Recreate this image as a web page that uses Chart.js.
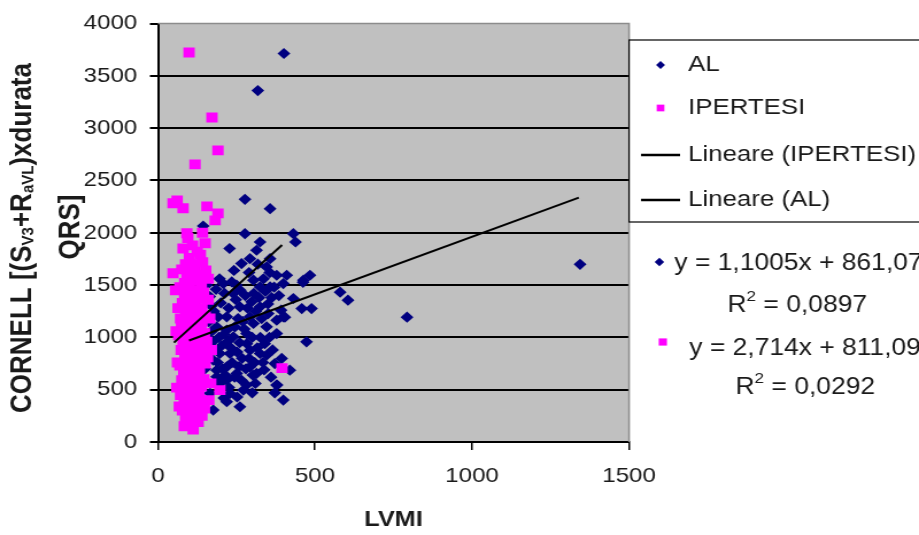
<!DOCTYPE html>
<html>
<head>
<meta charset="utf-8">
<title>CORNELL / LVMI</title>
<script src="https://cdn.jsdelivr.net/npm/chart.js@4/dist/chart.umd.min.js"></script>
<style>
  html, body { margin: 0; padding: 0; background: #ffffff; overflow: hidden; }
</style>
</head>
<body>
<canvas id="scatterChart" width="800" height="535" style="display:block;width:919px;height:535px"></canvas>
<script>
/*
----------------------
Data
----------------------
*/
var al_x = [277, 357, 144, 277, 431, 438, 325, 314, 293, 266, 357, 346, 378, 410, 463, 484, 304, 208, 240, 325,
  357, 399, 431, 458, 489, 192, 219, 261, 293, 325, 351, 378, 399, 187, 219, 240, 282, 304, 346, 378,
  473, 144, 176, 197, 229, 293, 325, 346, 394, 420, 187, 219, 251, 293, 314, 187, 219, 282, 378, 166,
  219, 261, 176, 399, 272, 229, 197, 144, 401, 318, 580, 605, 793, 1344, 404, 379, 462,
  165, 178, 185, 200, 212, 225, 235, 248, 255, 262, 270, 278, 285, 290, 298, 305, 312, 318, 322, 330,
  336, 342, 350, 356, 362, 370, 385, 392, 168, 175, 182, 194, 203, 210, 222, 232, 245, 252, 260, 268,
  275, 283, 290, 300, 308, 316, 326, 334, 340, 355, 365, 372, 190, 206, 214, 236, 244, 258, 266, 280,
  302, 310, 338, 360, 372, 150, 156, 162, 170, 196, 242, 228, 250, 205, 226, 252, 300, 210, 155, 140];
var al_y = [2320, 2231, 2065, 1992, 1992, 1912, 1912, 1833, 1753, 1706, 1753, 1674, 1594, 1594, 1547, 1594, 1547, 1515, 1419, 1483,
  1483, 1515, 1372, 1276, 1276, 1197, 1197, 1292, 1197, 1292, 1228, 1165, 1197, 1101, 1069, 1006, 1037, 1133, 1101, 1037,
  958, 815, 783, 846, 846, 878, 846, 831, 799, 687, 687, 719, 656, 719, 656, 624, 592, 544, 544, 465,
  385, 337, 305, 401, 496, 465, 560, 592, 3714, 3360, 1432, 1356, 1193, 1699, 1193, 544, 1527,
  1390, 1250, 1460, 1330, 1420, 1280, 1530, 1360, 1180, 1450, 1150, 1400, 1280, 1620, 1340, 1420, 1250, 1700, 1380, 1180,
  1560, 1440, 1320, 1620, 1380, 1480, 1400, 1260, 1050, 960, 880, 1000, 920, 1030, 960, 900, 1100, 860, 950, 800,
  1080, 940, 800, 1000, 760, 900, 1000, 760, 940, 1000, 880, 750, 760, 700, 640, 760, 620, 720, 590, 700,
  640, 560, 690, 620, 470, 700, 880, 1150, 1300, 1560, 1640, 1850, 1500, 600, 520, 430, 470, 420, 1500, 1240];

var ipertesi_x = [99, 172, 191, 118, 61, 48, 80, 156, 191, 182, 92, 48, 395, 197,
  95, 110, 125, 100, 135, 88, 118, 142, 76, 105, 130, 152, 92, 115, 138, 70, 100, 122, 145, 85,
  108, 132, 160, 78, 96, 118, 140, 88, 110, 128, 150, 72, 98, 120, 138, 84, 104, 126, 148, 66,
  92, 114, 134, 80, 100, 122, 142, 74, 96, 116, 136, 158, 86, 106, 128, 70, 92, 112, 132, 82,
  102, 124, 146, 76, 96, 118, 138, 88, 108, 130, 72, 94, 114, 136, 84, 104, 126, 148, 78, 98,
  118, 140, 88, 108, 128, 96, 84, 112, 68, 60, 62, 58, 64, 56, 160, 165, 170, 168, 162, 150,
  142, 80, 75, 155, 90, 100, 115, 125, 85, 95, 105, 120, 130, 110, 140, 150, 100, 90];
var ipertesi_y = [3723, 3103, 2788, 2654, 2310, 2282, 2234, 2253, 2186, 2119, 1995, 1613, 706, 496,
  1950, 1880, 1820, 1760, 1790, 1700, 1680, 1720, 1650, 1620, 1600, 1640, 1560, 1540, 1520, 1480, 1470, 1450, 1430, 1400,
  1390, 1370, 1360, 1330, 1310, 1290, 1280, 1250, 1230, 1210, 1200, 1180, 1160, 1140, 1120, 1100, 1080, 1060, 1040, 1020,
  1000, 990, 970, 950, 930, 910, 900, 880, 860, 840, 820, 810, 790, 770, 750, 730, 710, 700, 680, 660,
  640, 620, 600, 590, 570, 550, 530, 510, 490, 470, 450, 430, 420, 400, 380, 360, 340, 320, 300, 280,
  260, 250, 230, 210, 190, 170, 150, 120, 340, 520, 760, 1060, 1280, 1450, 1560, 1180, 880, 560, 400, 1900,
  2000, 1850, 1100, 960, 300, 1050, 1350, 1550, 1520, 1150, 820, 480, 1000, 1700, 1150, 750, 600, 880];

/* trend line end points */
var ipertesi_trend_x = [51, 395];
var ipertesi_trend_y = [950, 1883];
var al_trend_x = [99, 1340];
var al_trend_y = [970, 2336];

var series_labels = ["AL", "IPERTESI", "Lineare (IPERTESI)", "Lineare (AL)"];
var trend_equations = ["y = 1,1005x + 861,07", "y = 2,714x + 811,09"];
var trend_r_squared = ["0,0897", "0,0292"];

var x_ticks = [0, 500, 1000, 1500];
var y_ticks = [0, 500, 1000, 1500, 2000, 2500, 3000, 3500, 4000];

var al_color = "#000080";
var ipertesi_color = "#ff00ff";
var text_color = "#1a1a1a";
var font_family = "'Liberation Sans', Arial, sans-serif";

function to_points(xs, ys) {
  var points = [];
  for (var i = 0; i < xs.length; i++) {
    points.push({ x: xs[i], y: ys[i] });
  }
  return points;
}

/*
----------------------
Grey plot background and plot frame
----------------------
*/
var plot_background_plugin = {
  id: "plot_background",
  beforeDraw: function (chart) {
    var area = chart.chartArea;
    var ctx = chart.ctx;
    ctx.save();
    ctx.fillStyle = "#c0c0c0";
    ctx.fillRect(area.left, area.top, area.right - area.left, area.bottom - area.top);
    ctx.restore();
  },
  beforeDatasetsDraw: function (chart) {
    var area = chart.chartArea;
    var ctx = chart.ctx;
    ctx.save();
    ctx.strokeStyle = "#8c8c8c";
    ctx.lineWidth = 1.5;
    ctx.beginPath();
    ctx.moveTo(area.left, area.top);
    ctx.lineTo(area.right, area.top);
    ctx.lineTo(area.right, area.bottom);
    ctx.stroke();
    ctx.restore();
  }
};

/*
----------------------
Legend box and trend line equations on the right
----------------------
*/
function draw_r_squared(ctx, value, center_x, y) {
  var main_font = "23px " + font_family;
  var sup_font = "15px " + font_family;
  ctx.font = main_font;
  var w_r = ctx.measureText("R").width;
  var w_rest = ctx.measureText(" = " + value).width;
  ctx.font = sup_font;
  var w_two = ctx.measureText("2").width;
  var x = center_x - (w_r + w_two + w_rest) / 2;

  ctx.textAlign = "left";
  ctx.font = main_font;
  ctx.fillText("R", x, y);
  ctx.font = sup_font;
  ctx.fillText("2", x + w_r, y - 9);
  ctx.font = main_font;
  ctx.fillText(" = " + value, x + w_r + w_two, y);
}

var side_legend_plugin = {
  id: "side_legend",
  afterDraw: function (chart) {
    var ctx = chart.ctx;
    var area = chart.chartArea;
    var box_left = area.right;
    var datasets = chart.data.datasets;

    ctx.save();
    ctx.fillStyle = "#ffffff";
    ctx.fillRect(box_left, 40, 300, 182);
    ctx.strokeStyle = "#000000";
    ctx.lineWidth = 1.2;
    ctx.strokeRect(box_left, 40, 300, 182);

    ctx.font = "22.5px " + font_family;
    ctx.fillStyle = text_color;
    ctx.textBaseline = "middle";
    ctx.textAlign = "left";

    var rows = [65, 108, 155, 200];
    var text_x = 599;
    var marker_x = 575;

    for (var i = 0; i < datasets.length; i++) {
      var ds = datasets[i];
      var row_y = rows[i];
      if (ds.showLine) {
        ctx.strokeStyle = ds.borderColor;
        ctx.lineWidth = 2.5;
        ctx.beginPath();
        ctx.moveTo(558, row_y);
        ctx.lineTo(592, row_y);
        ctx.stroke();
      } else {
        draw_marker(ctx, ds.pointStyle, marker_x, row_y, ds.backgroundColor, 0.7);
      }
      ctx.fillStyle = text_color;
      ctx.fillText(ds.label, text_x, row_y);
    }

    /* trend line equations below the legend */
    ctx.font = "23px " + font_family;
    draw_marker(ctx, "rectRot", 574, 262, al_color, 0.75);
    ctx.fillStyle = text_color;
    ctx.textAlign = "left";
    ctx.fillText(trend_equations[0], 587, 264);
    draw_r_squared(ctx, trend_r_squared[0], 694, 306);

    draw_marker(ctx, "rect", 577, 342, ipertesi_color, 0.75);
    ctx.fillStyle = text_color;
    ctx.textAlign = "left";
    ctx.font = "23px " + font_family;
    ctx.fillText(trend_equations[1], 600, 349);
    draw_r_squared(ctx, trend_r_squared[1], 701, 388);
    ctx.restore();
  }
};

function draw_marker(ctx, style, x, y, color, scale) {
  ctx.save();
  ctx.fillStyle = color;
  ctx.beginPath();
  if (style === "rectRot") {
    var r = 4.2 * scale / 0.75;
    ctx.moveTo(x, y - r);
    ctx.lineTo(x + r, y);
    ctx.lineTo(x, y + r);
    ctx.lineTo(x - r, y);
    ctx.closePath();
  } else {
    var h = 3.6 * scale / 0.75;
    ctx.rect(x - h, y - h, 2 * h, 2 * h);
  }
  ctx.fill();
  ctx.restore();
}

/*
----------------------
Rotated y axis title with subscripts
----------------------
*/
var y_title_parts = [
  { text: "CORNELL [(S", sub: false },
  { text: "V3", sub: true },
  { text: "+R", sub: false },
  { text: "aVL", sub: true },
  { text: ")xdurata", sub: false }
];

var y_title_plugin = {
  id: "y_title",
  afterDraw: function (chart) {
    var ctx = chart.ctx;
    var main_font = "bold 26px " + font_family;
    var sub_font = "bold 15px " + font_family;

    ctx.save();
    ctx.fillStyle = text_color;
    ctx.textBaseline = "middle";
    ctx.textAlign = "left";

    var total = 0;
    for (var i = 0; i < y_title_parts.length; i++) {
      ctx.font = y_title_parts[i].sub ? sub_font : main_font;
      total += ctx.measureText(y_title_parts[i].text).width;
    }

    ctx.translate(20, 238);
    ctx.rotate(-Math.PI / 2);
    var pos = -total / 2;
    for (var j = 0; j < y_title_parts.length; j++) {
      var part = y_title_parts[j];
      ctx.font = part.sub ? sub_font : main_font;
      ctx.fillText(part.text, pos, part.sub ? 5 : 0);
      pos += ctx.measureText(part.text).width;
    }
    ctx.restore();

    ctx.save();
    ctx.fillStyle = text_color;
    ctx.font = main_font;
    ctx.textBaseline = "middle";
    ctx.textAlign = "center";
    ctx.translate(62, 227);
    ctx.rotate(-Math.PI / 2);
    ctx.fillText("QRS]", 0, 0);
    ctx.restore();
  }
};

var canvas = document.getElementById("scatterChart");
var context = canvas.getContext("2d");

var scatter_chart = new Chart(context, {
  type: "scatter",
  data: {
    datasets: [
      {
        label: series_labels[0],
        data: to_points(al_x, al_y),
        pointStyle: "rectRot",
        pointRadius: 5.6,
        pointHoverRadius: 5.6,
        backgroundColor: al_color,
        borderColor: al_color,
        borderWidth: 0,
        order: 3
      },
      {
        label: series_labels[1],
        data: to_points(ipertesi_x, ipertesi_y),
        pointStyle: "rect",
        pointRadius: 7,
        pointHoverRadius: 7,
        backgroundColor: ipertesi_color,
        borderColor: ipertesi_color,
        borderWidth: 0,
        order: 2
      },
      {
        label: series_labels[2],
        data: to_points(ipertesi_trend_x, ipertesi_trend_y),
        showLine: true,
        pointRadius: 0,
        borderColor: "#000000",
        borderWidth: 2,
        order: 1
      },
      {
        label: series_labels[3],
        data: to_points(al_trend_x, al_trend_y),
        showLine: true,
        pointRadius: 0,
        borderColor: "#000000",
        borderWidth: 2,
        order: 0
      }
    ]
  },
  options: {
    responsive: false,
    devicePixelRatio: 1,
    animation: false,
    layout: {
      padding: { left: 0, right: 252.4, top: 23, bottom: 0 }
    },
    scales: {
      x: {
        type: "linear",
        min: 0,
        max: 1500,
        afterFit: function (scale) { scale.height = 93; },
        afterBuildTicks: function (scale) {
          scale.ticks = x_ticks.map(function (v) { return { value: v }; });
        },
        border: { display: true, color: "#000000", width: 2 },
        grid: { drawOnChartArea: false, drawTicks: true, tickLength: 8, color: "#000000", tickColor: "#000000", lineWidth: 1.5 },
        ticks: {
          padding: 14,
          color: text_color,
          font: { family: font_family, size: 21 },
          callback: function (value) { return String(value); }
        },
        title: {
          display: true,
          text: "LVMI",
          color: text_color,
          font: { family: font_family, size: 22, weight: "bold" },
          padding: { top: 0, bottom: 2 }
        }
      },
      y: {
        type: "linear",
        min: 0,
        max: 4000,
        afterFit: function (scale) { scale.width = 137.5; },
        afterBuildTicks: function (scale) {
          scale.ticks = y_ticks.map(function (v) { return { value: v }; });
        },
        border: { display: true, color: "#000000", width: 2 },
        grid: {
          drawOnChartArea: true,
          drawTicks: true,
          tickLength: 7,
          tickColor: "#000000",
          lineWidth: 2,
          color: function (ctx) {
            return ctx.tick && ctx.tick.value === 4000 ? "rgba(0,0,0,0)" : "#000000";
          }
        },
        ticks: {
          padding: 11,
          color: text_color,
          font: { family: font_family, size: 21 },
          callback: function (value) { return String(value); }
        }
      }
    },
    plugins: {
      legend: { display: false },
      tooltip: { enabled: false }
    }
  },
  plugins: [plot_background_plugin, side_legend_plugin, y_title_plugin]
});
</script>
</body>
</html>
